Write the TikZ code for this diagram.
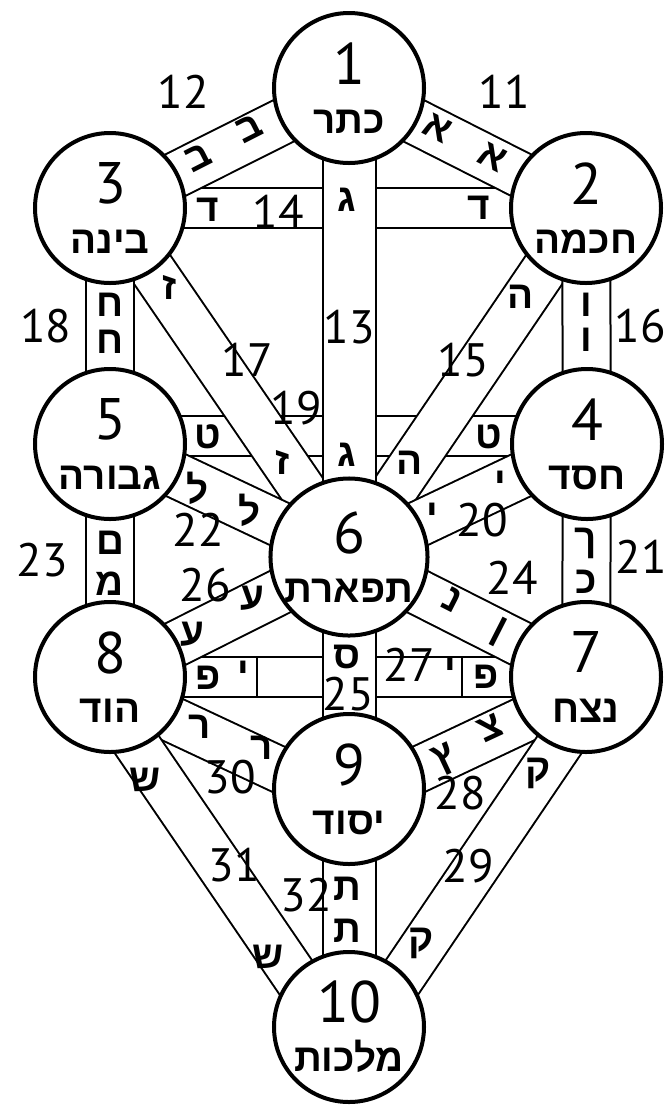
\documentclass[tikz,border=0pt]{standalone}
\usepackage{fontspec}
\usetikzlibrary{positioning, calc, backgrounds}
\setmainfont{PT Sans}
\newfontfamily\hebfont[Script=Hebrew]{Liberation Sans}
\TeXXeTstate=1
\newcommand{\heb}[1]{{\hebfont\bfseries\beginR #1\endR}}
\newcommand{\sname}[1]{{\fontsize{33}{36}\selectfont\heb{#1}}}

\begin{document}
\begin{tikzpicture}[
    x=0.03cm, y=-0.03cm,
    sephira/.style={circle, draw, line width=0.12cm, fill=white, minimum size=4.5cm,
      inner sep=0pt, align=center, font=\fontsize{50}{42}\selectfont},
    band/.style={draw=black, line width=0.06cm, double=white},
    hband/.style={band, double distance=1.14cm},
    dband/.style={band, double distance=1.32cm},
    vband/.style={band, double distance=1.38cm},
    cband/.style={band, double distance=1.53cm},
    path num/.style={font=\fontsize{40}{40}\selectfont, inner sep=0pt},
    glyph/.style={font=\fontsize{33}{33}\selectfont, inner sep=0pt}
  ]
  \useasboundingbox (0,0) rectangle (667,1106);

  % --- Sephirot ---
  \node[sephira] (s1) at (349,88) {1\\\sname{כתר}};
  \node[sephira] (s2) at (586,208) {2\\\sname{חכמה}};
  \node[sephira] (s3) at (110,208) {3\\\sname{בינה}};
  \node[sephira] (s4) at (587,444) {4\\\sname{חסד}};
  \node[sephira] (s5) at (110,444) {5\\\sname{גבורה}};
  \node[sephira] (s6) at (349,557) {6\\\sname{תפארת}};
  \node[sephira] (s7) at (586,677) {7\\\sname{נצח}};
  \node[sephira] (s8) at (110,677) {8\\\sname{הוד}};
  \node[sephira] (s9) at (349,789) {9\\\sname{יסוד}};
  \node[sephira] (s10) at (349,1027) {10\\\sname{מלכות}};

  % --- Paths (double bands behind the circles) ---
  \begin{scope}[on background layer]
    \draw[hband] (s3.center) -- (s2.center);
    \draw[hband] ([yshift=0.24cm]s5.center) -- ([yshift=0.24cm]s4.center);
    \draw[hband] (s8.center) -- (s7.center);
    \draw[dband] (s1.center) -- (s2.center);
    \draw[dband] (s1.center) -- (s3.center);
    \draw[dband] (s2.center) -- (s6.center);
    \draw[dband] (s3.center) -- (s6.center);
    \draw[dband] (s4.center) -- (s6.center);
    \draw[dband] (s5.center) -- (s6.center);
    \draw[dband] (s6.center) -- (s7.center);
    \draw[dband] (s6.center) -- (s8.center);
    \draw[dband] ([yshift=-0.4cm]s7.center) -- ([yshift=-0.4cm]s9.center);
    \draw[dband] ([yshift=-0.4cm]s8.center) -- ([yshift=-0.4cm]s9.center);
    \draw[dband] ([xshift=0.58cm]s7.center) -- ([xshift=0.58cm]s10.center);
    \draw[dband] ([xshift=-0.58cm]s8.center) -- ([xshift=-0.58cm]s10.center);
    \draw[vband] (s2.center) -- (s4.center);
    \draw[vband] (s3.center) -- (s5.center);
    \draw[vband] (s4.center) -- (s7.center);
    \draw[vband] (s5.center) -- (s8.center);
    \draw[cband] (s1.center) -- (s6.center);
    \draw[cband] (s6.center) -- (s9.center);
    \draw[cband] (s9.center) -- (s10.center);
  \end{scope}

  % --- Dividers inside path 27 ---
  \draw[line width=0.06cm] ([yshift=0.63cm]$(s8)!0.309!(s7)$) -- ([yshift=-0.63cm]$(s8)!0.309!(s7)$);
  \draw[line width=0.06cm] ([yshift=0.63cm]$(s8)!0.739!(s7)$) -- ([yshift=-0.63cm]$(s8)!0.739!(s7)$);

  % --- Letters on the paths ---
  \node[glyph, rotate=-27] (l11a) at (438,128) {\heb{א}};
  \node[glyph, rotate=-27] (l11b) at (493,157) {\heb{א}};
  \node[glyph, rotate=27] (l12a) at (249,128) {\heb{ב}};
  \node[glyph, rotate=27] (l12b) at (198,157) {\heb{ב}};
  \node[glyph] (l13a) at (347,200) {\heb{ג}};
  \node[glyph] (l13b) at (347,455) {\heb{ג}};
  \node[glyph] (l14a) at (208,210) {\heb{ד}};
  \node[glyph] (l14b) at (479,208) {\heb{ד}};
  \node[glyph] (l15a) at (521,297) {\heb{ה}};
  \node[glyph] (l15b) at (410,463) {\heb{ה}};
  \node[glyph] (l16a) at (586,305) {\heb{ו}};
  \node[glyph] (l16b) at (586,340) {\heb{ו}};
  \node[glyph] (l17a) at (170,287) {\heb{ז}};
  \node[glyph] (l17b) at (283,462) {\heb{ז}};
  \node[glyph] (l18a) at (110,305) {\heb{ח}};
  \node[glyph] (l18b) at (110,342) {\heb{ח}};
  \node[glyph] (l19a) at (208,437) {\heb{ט}};
  \node[glyph] (l19b) at (489,437) {\heb{ט}};
  \node[glyph] (l20a) at (500,483) {\heb{י}};
  \node[glyph] (l20b) at (432,515) {\heb{י}};
  \node[glyph] (l21a) at (586,543) {\heb{ך}};
  \node[glyph] (l21b) at (586,582) {\heb{כ}};
  \node[glyph] (l22a) at (198,488) {\heb{ל}};
  \node[glyph] (l22b) at (250,510) {\heb{ל}};
  \node[glyph] (l23a) at (110,543) {\heb{ם}};
  \node[glyph] (l23b) at (110,584) {\heb{מ}};
  \node[glyph, rotate=-27] (l24a) at (452,600) {\heb{נ}};
  \node[glyph, rotate=-27] (l24b) at (498,632) {\heb{ן}};
  \node[glyph] (l25a) at (347,657) {\heb{ס}};
  \node[glyph] (l26a) at (252,598) {\heb{ע}};
  \node[glyph] (l26b) at (192,634) {\heb{ע}};
  \node[glyph] (l27a) at (208,678) {\heb{פ}};
  \node[glyph] (l27b) at (243,673) {\heb{י}};
  \node[glyph] (l27c) at (450,670) {\heb{י}};
  \node[glyph] (l27d) at (486,677) {\heb{פ}};
  \node[glyph, rotate=25] (l28a) at (490,728) {\heb{צ}};
  \node[glyph, rotate=25] (l28b) at (445,760) {\heb{ץ}};
  \node[glyph] (l29a) at (538,773) {\heb{ק}};
  \node[glyph] (l29b) at (421,943) {\heb{ק}};
  \node[glyph] (l30a) at (200,727) {\heb{ר}};
  \node[glyph] (l30b) at (262,748) {\heb{ר}};
  \node[glyph] (l31a) at (145,780) {\heb{ש}};
  \node[glyph] (l31b) at (268,957) {\heb{ש}};
  \node[glyph] (l32a) at (347,889) {\heb{ת}};
  \node[glyph] (l32b) at (347,931) {\heb{ת}};

  % --- Path numbers ---
  \node[path num] (p11) at (504,92) {11};
  \node[path num] (p12) at (183,92) {12};
  \node[path num] (p13) at (349,327) {13};
  \node[path num] (p14) at (278,212) {14};
  \node[path num] (p15) at (463,360) {15};
  \node[path num] (p16) at (640,326) {16};
  \node[path num] (p17) at (247,360) {17};
  \node[path num] (p18) at (46,326) {18};
  \node[path num] (p19) at (296,408) {19};
  \node[path num] (p20) at (482,520) {20};
  \node[path num] (p21) at (641,557) {21};
  \node[path num] (p22) at (198,530) {22};
  \node[path num] (p23) at (42,560) {23};
  \node[path num] (p24) at (512,578) {24};
  \node[path num] (p25) at (348,694) {25};
  \node[path num] (p26) at (205,585) {26};
  \node[path num] (p27) at (409,665) {27};
  \node[path num] (p28) at (460,793) {28};
  \node[path num] (p29) at (468,866) {29};
  \node[path num] (p30) at (230,777) {30};
  \node[path num] (p31) at (234,865) {31};
  \node[path num] (p32) at (306,895) {32};

\end{tikzpicture}
\end{document}
